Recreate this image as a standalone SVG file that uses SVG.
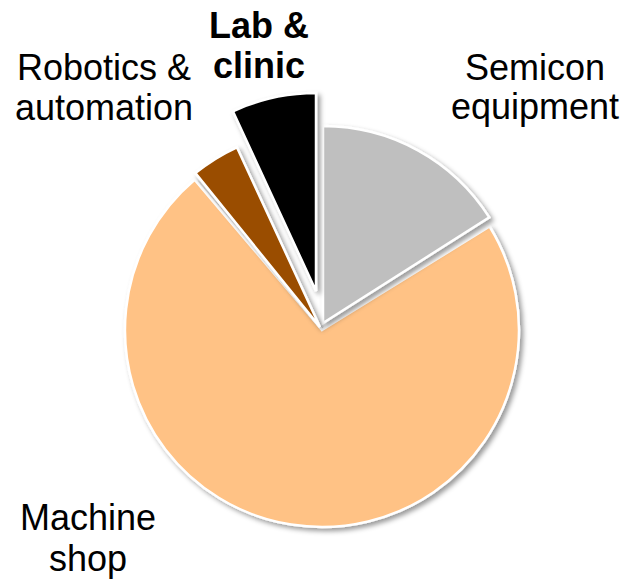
<svg xmlns="http://www.w3.org/2000/svg" width="628" height="584" viewBox="0 0 628 584">
<style>
.slice{stroke:#fff;stroke-width:2.5;stroke-linejoin:miter;filter:url(#sh)}
.lbl{font-family:"Liberation Sans",Arial,sans-serif;font-size:36px;fill:#000;text-anchor:middle}
.b{font-weight:bold}
</style>
<defs>
<filter id="sh" x="-20%" y="-20%" width="140%" height="140%">
<feDropShadow dx="3" dy="3" stdDeviation="2.5" flood-color="#000" flood-opacity="0.4"/>
</filter>
</defs>
<rect width="628" height="584" fill="#fff"/>
<g id="machine-shop">
<path class="slice" fill="#FFC285" d="M322,330 L489.6,226.5 A197,197 0 1 1 194.6,179.7 Z"/>
<text class="lbl" x="88" y="530">Machine</text>
<text class="lbl" x="88" y="571">shop</text>
</g>
<g id="semicon-equipment">
<path class="slice" fill="#BFBFBF" d="M323,323 L323,126 A197,197 0 0 1 489.3,217.4 Z"/>
<text class="lbl" x="535" y="80">Semicon</text>
<text class="lbl" x="535" y="119">equipment</text>
</g>
<g id="robotics-automation">
<path class="slice" fill="#9A4D00" d="M320,327 L195.4,173.1 A198,198 0 0 1 236.9,147.3 Z"/>
<text class="lbl" x="104" y="80">Robotics &amp;</text>
<text class="lbl" x="104" y="120">automation</text>
</g>
<g id="lab-clinic">
<path class="slice" fill="#000" d="M316,291 L232.9,111.3 A198,198 0 0 1 316,93 Z"/>
<text class="lbl b" x="259" y="38">Lab &amp;</text>
<text class="lbl b" x="259" y="78">clinic</text>
</g>
<g id="connectors"/>
</svg>
